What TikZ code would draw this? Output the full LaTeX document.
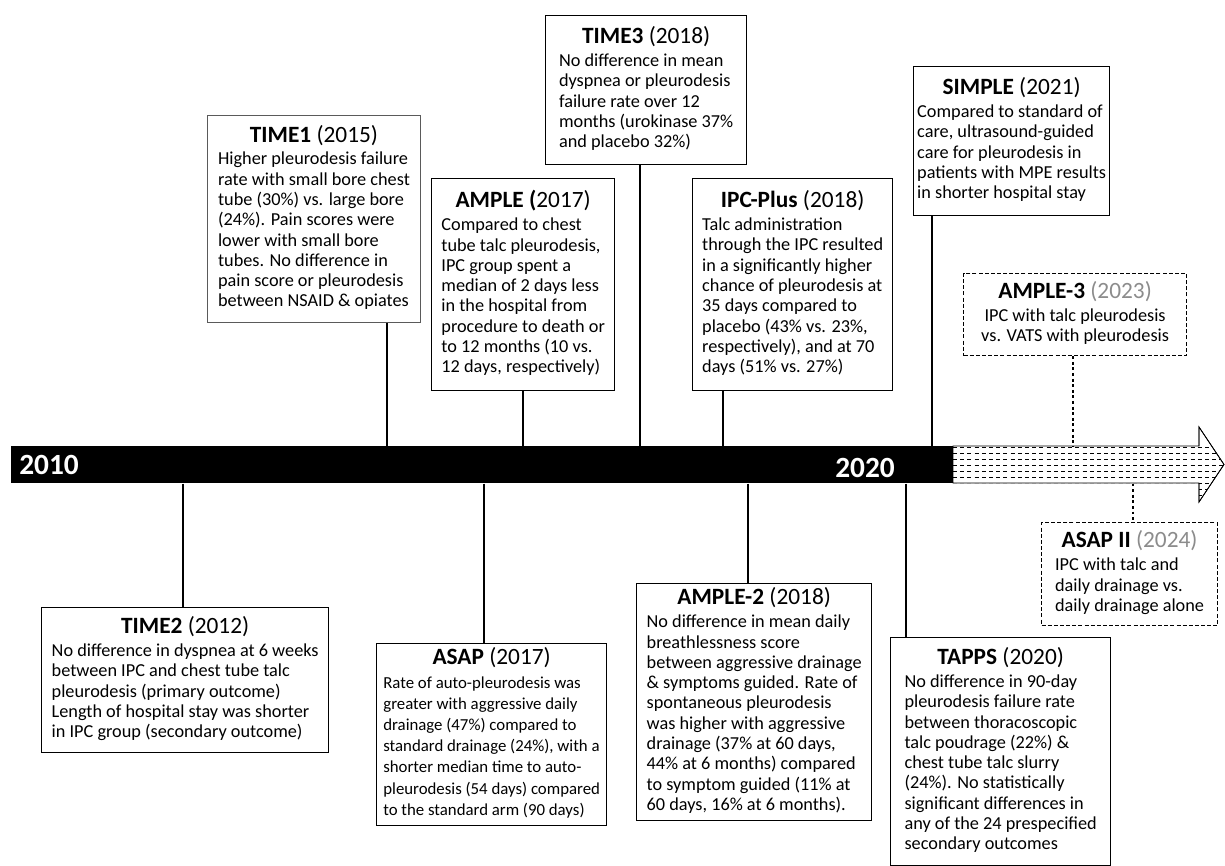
\documentclass[tikz,border=0pt]{standalone}
\usepackage{fontspec}
\setmainfont{Carlito}
\usepackage{tikz}
\usetikzlibrary{arrows.meta}
\definecolor{tlFuture}{HTML}{8C8C8C}
\definecolor{tlFrame}{HTML}{5A5A5A}
\newcommand{\trialtitle}[2]{{\fontsize{17.5}{15.2}\selectfont\textbf{#1} #2}}
\newcommand{\trial}[4][l]{\begin{tabular}{@{}#1@{}}\multicolumn{1}{@{}c@{}}{\trialtitle{#2}{#3}}\\[2pt]#4\end{tabular}}

\begin{document}
\begin{tikzpicture}[x=0.75pt,y=-0.75pt,
          trialBox/.style={rectangle, draw=black, line width=1pt, fill=white, inner sep=0pt, anchor=north west, font=\fontsize{13.7}{15.2}\selectfont},
          futureBox/.style={trialBox, line width=0.9pt, dash pattern=on 3pt off 1.6pt},
          stem/.style={line width=2pt, draw=black},
          futureStem/.style={line width=2.2pt, dash pattern=on 2.2pt off 2pt},
          hatch/.style={line width=0.6pt, dash pattern=on 3pt off 2.4pt},
          yearLabel/.style={font=\fontsize{22}{22}\selectfont\bfseries, text=white, inner sep=0pt, anchor=west}
        ]
          \useasboundingbox (0,0) rectangle (1225,866);
          % timeline
          \node[fill=black, minimum width=706.5pt, minimum height=27.75pt, inner sep=0pt, anchor=north west] (bar) at (11,446) {};
          \node[yearLabel] (y2010) at (19,465) {2010};
          \node[yearLabel] (y2020) at (835,468) {2020};
          \draw[line width=0.6pt, fill=white] (953,446) -- (1199,446) -- (1199,427) -- (1224,464.5) -- (1199,502) -- (1199,483) -- (953,483) -- cycle;
          \begin{scope}
            \clip (953,446) -- (1199,446) -- (1199,427) -- (1224,464.5) -- (1199,502) -- (1199,483) -- (953,483) -- cycle;
            \foreach \y in {447,453,...,503}
              \draw[hatch] (953,\y) -- (1225,\y);
          \end{scope}
          \draw[line width=0.6pt] (1199,446) -- (1199,427) -- (1224,464.5) -- (1199,502) -- (1199,483);

          % trials above the line
          \node[trialBox, draw=tlFrame, line width=0.7pt, minimum width=159.75pt, minimum height=155.25pt] (time1) at (207,115)
            {\trial{TIME1}{(2015)}{Higher pleurodesis failure\\rate with small bore chest\\tube (30\%) vs. large bore\\(24\%). Pain scores were\\lower with small bore\\tubes. No difference in\\pain score or pleurodesis\\between NSAID \& opiates}};
          \node[trialBox, minimum width=150.75pt, minimum height=111.75pt] (time3) at (545,15)
            {\trial{TIME3}{(2018)}{No difference in mean\\dyspnea or pleurodesis\\failure rate over 12\\months (urokinase 37\%\\and placebo 32\%)}};
          \node[trialBox, minimum width=137.25pt, minimum height=159pt] (ample) at (431,178)
            {\trial{AMPLE}{\textbf{(}2017)}{Compared to chest\\tube talc pleurodesis,\\IPC group spent a\\median of 2 days less\\in the hospital from\\procedure to death or\\to 12 months (10 vs.\\12 days, respectively)}};
          \node[trialBox, minimum width=150pt, minimum height=159pt] (ipcplus) at (692,178)
            {\trial{IPC-Plus}{(2018)}{Talc administration\\through the IPC resulted\\in a significantly higher\\chance of pleurodesis at\\35 days compared to\\placebo (43\% vs. 23\%,\\respectively), and at 70\\days (51\% vs. 27\%)}};
          \node[trialBox, minimum width=147pt, minimum height=111.75pt] (simple) at (913,66)
            {\trial{SIMPLE}{(2021)}{Compared to standard of\\care, ultrasound-guided\\care for pleurodesis in\\patients with MPE results\\in shorter hospital stay}};
          \node[futureBox, minimum width=167.25pt, minimum height=61.5pt] (ample3) at (963,273)
            {\trial[c]{AMPLE-3}{\textcolor{tlFuture}{(2023)}}{IPC with talc pleurodesis\\vs. VATS with pleurodesis}};

          % trials below the line
          \node[trialBox, minimum width=215.25pt, minimum height=108.75pt] (time2) at (41,607)
            {\trial{TIME2}{(2012)}{No difference in dyspnea at 6 weeks\\between IPC and chest tube talc\\pleurodesis (primary outcome)\\Length of hospital stay was shorter\\in IPC group (secondary outcome)}};
          \node[trialBox, font=\fontsize{12.6}{15.8}\selectfont, minimum width=172.5pt, minimum height=136.5pt] (asap) at (376,643)
            {\trial{ASAP}{(2017)}{Rate of auto-pleurodesis was\\greater with aggressive daily\\drainage (47\%) compared to\\standard drainage (24\%), with a\\shorter median time to auto-\\pleurodesis (54 days) compared\\to the standard arm (90 days)}};
          \node[trialBox, minimum width=176.25pt, minimum height=177.75pt] (ample2) at (636,583)
            {\trial{AMPLE-2}{(2018)}{No difference in mean daily\\breathlessness score\\between aggressive drainage\\\& symptoms guided. Rate of\\spontaneous pleurodesis\\was higher with aggressive\\drainage (37\% at 60 days,\\44\% at 6 months) compared\\to symptom guided (11\% at\\60 days, 16\% at 6 months).}};
          \node[trialBox, minimum width=165pt, minimum height=171pt] (tapps) at (890,637)
            {\trial{TAPPS}{(2020)}{No difference in 90-day\\pleurodesis failure rate\\between thoracoscopic\\talc poudrage (22\%) \&\\chest tube talc slurry\\(24\%). No statistically\\significant differences in\\any of the 24 prespecified\\secondary outcomes}};
          \node[futureBox, minimum width=132pt, minimum height=77.25pt] (asap2) at (1041,522)
            {\trial{ASAP II}{\textcolor{tlFuture}{(2024)}}{IPC with talc and\\daily drainage vs.\\daily drainage alone}};

          % stems
          \coordinate (sTime1) at (387,0);
          \coordinate (sAmple) at (523,0);
          \coordinate (sTime3) at (640,0);
          \coordinate (sIpc) at (723,0);
          \coordinate (sSimple) at (932,0);
          \coordinate (sAmple3) at (1073,0);
          \coordinate (sTime2) at (183,0);
          \coordinate (sAsap) at (484,0);
          \coordinate (sAmple2) at (748,0);
          \coordinate (sTapps) at (906,0);
          \coordinate (sAsap2) at (1133,0);
          \draw[stem] (time1.south -| sTime1) -- (bar.north -| sTime1);
          \draw[stem] (ample.south -| sAmple) -- (bar.north -| sAmple);
          \draw[stem] (time3.south -| sTime3) -- (bar.north -| sTime3);
          \draw[stem] (ipcplus.south -| sIpc) -- (bar.north -| sIpc);
          \draw[stem] (simple.south -| sSimple) -- (bar.north -| sSimple);
          \draw[futureStem] (ample3.south -| sAmple3) -- (bar.north -| sAmple3);
          \draw[stem] (bar.south -| sTime2) -- (time2.north -| sTime2);
          \draw[stem] (bar.south -| sAsap) -- (asap.north -| sAsap);
          \draw[stem] (bar.south -| sAmple2) -- (ample2.north -| sAmple2);
          \draw[stem] (bar.south -| sTapps) -- (tapps.north -| sTapps);
          \draw[futureStem] (bar.south -| sAsap2) -- (asap2.north -| sAsap2);
        \end{tikzpicture}
\end{document}
